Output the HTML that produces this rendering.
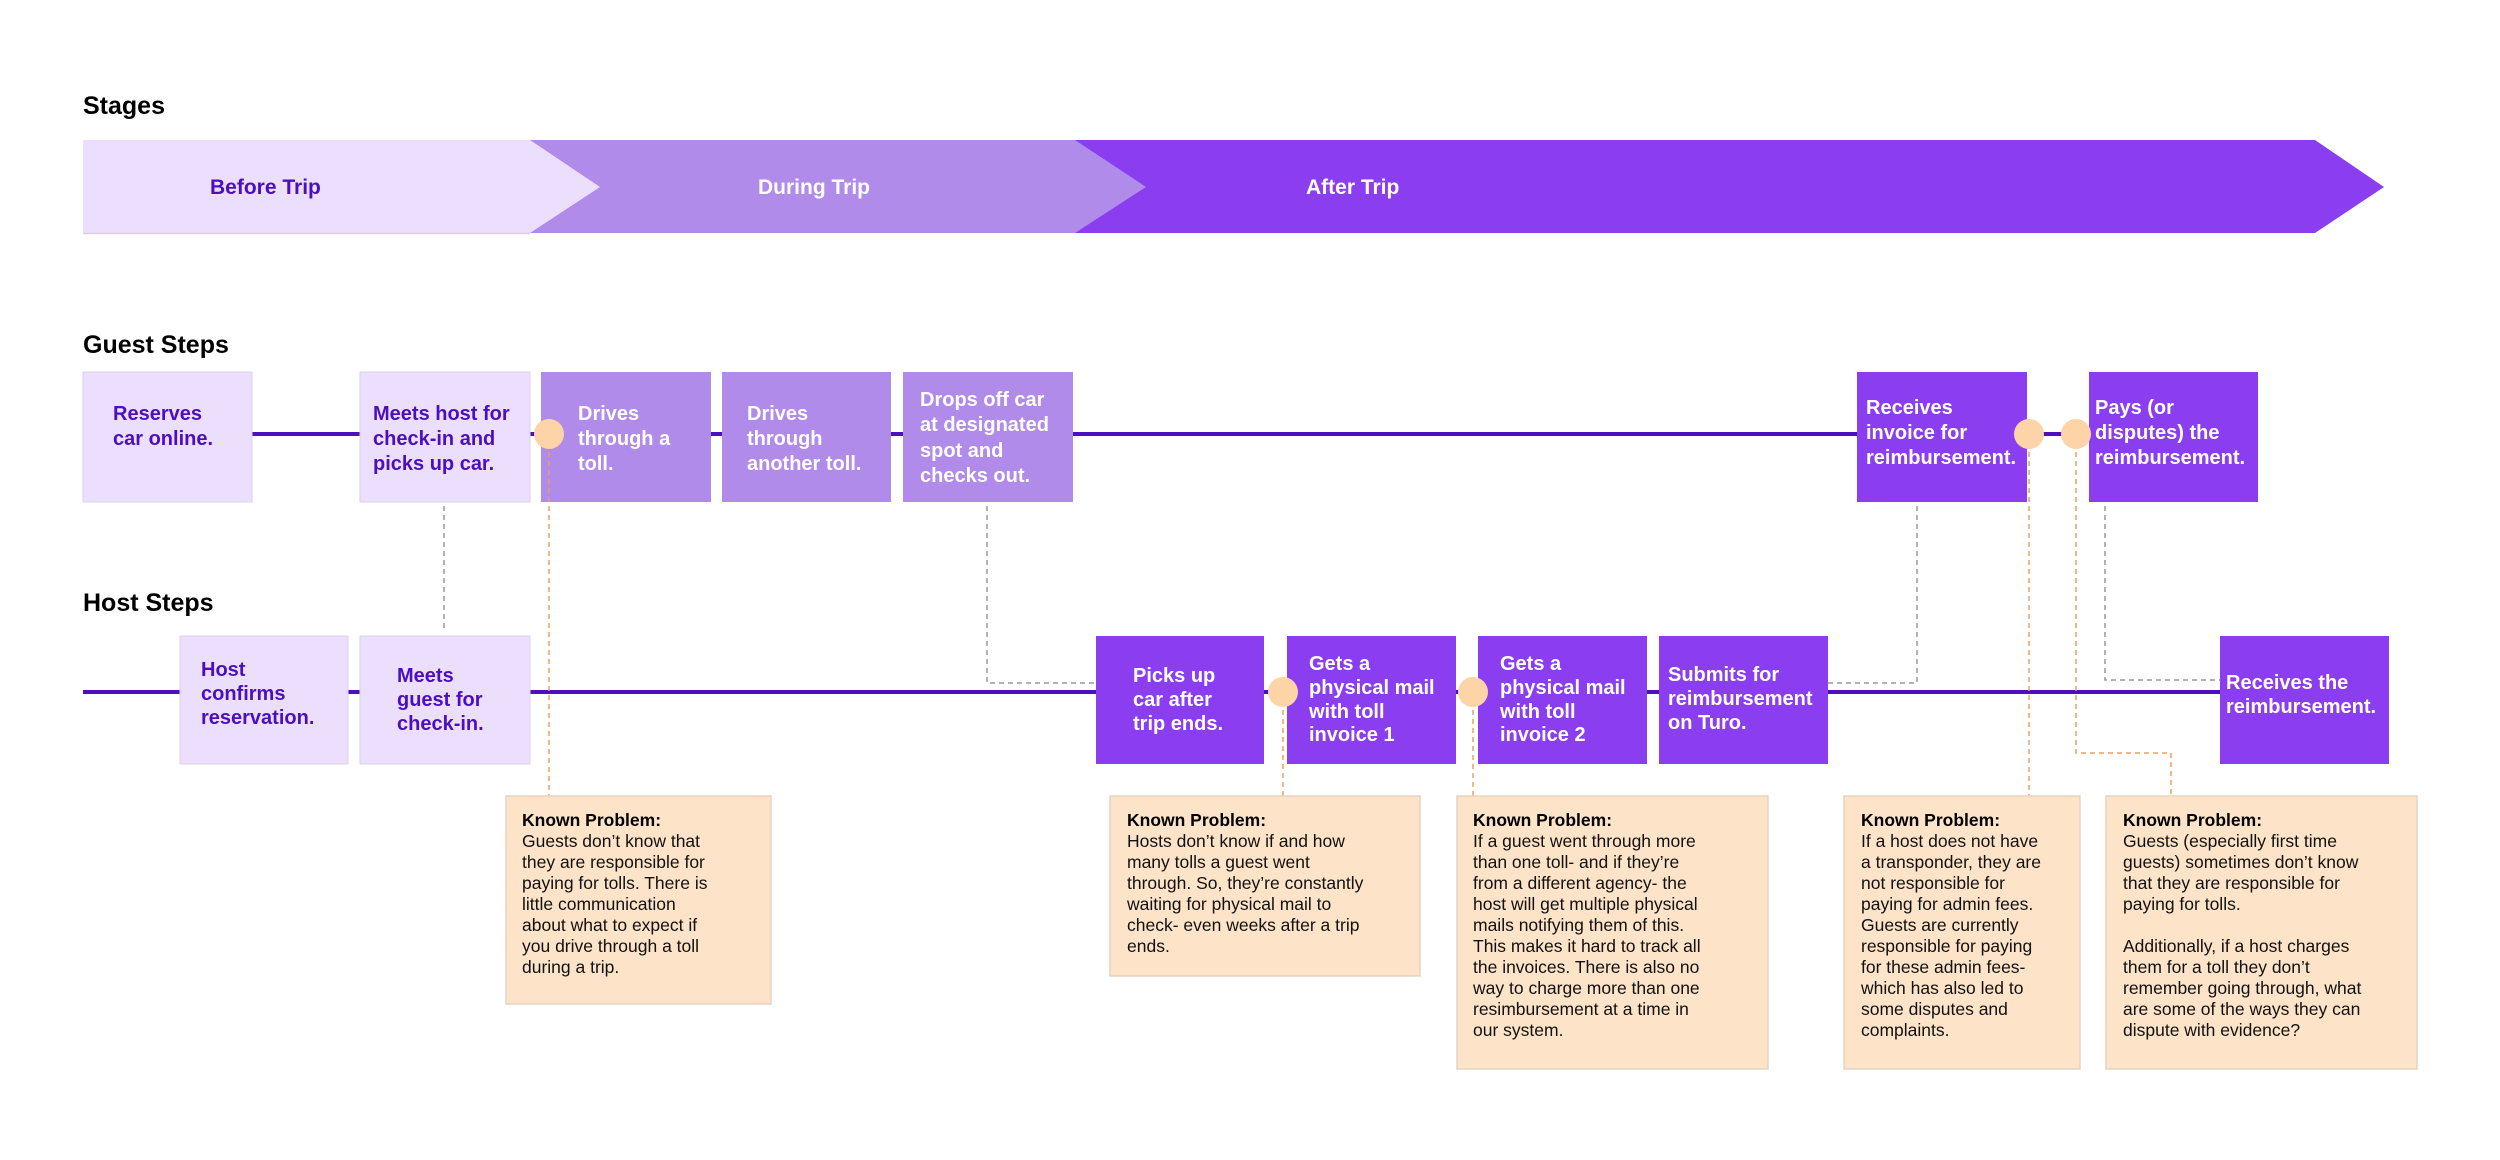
<!DOCTYPE html>
<html><head><meta charset="utf-8"><style>
html,body{margin:0;padding:0;background:#fff;}
svg{display:block;font-family:"Liberation Sans",sans-serif;}
.h{font-size:25px;font-weight:bold;fill:#000;}
.st{font-size:21px;font-weight:bold;}
.s{font-size:20px;font-weight:bold;}
.d{fill:#4b0fc0;}
.w{fill:#fff;}
.p{font-size:17.5px;fill:#111;}
.pb{font-size:17.5px;font-weight:bold;fill:#000;}
</style></head><body>
<svg width="2500" height="1160" viewBox="0 0 2500 1160" xmlns="http://www.w3.org/2000/svg">
<rect width="2500" height="1160" fill="#fff"/>
<!-- Stages -->
<text class="h" x="83" y="114">Stages</text>
<polygon points="1075,140 2315,140 2384,187 2315,233 1075,233" fill="#8a3ef0"/>
<polygon points="530,140 1075,140 1146,187 1075,233 530,233" fill="#b08be9"/>
<polygon points="83,140 530,140 600,187 530,233 83,233" fill="#ecdffd"/>
<line x1="83" y1="233.5" x2="530" y2="233.5" stroke="#d8d0e0" stroke-width="1.5"/>
<text class="st d" x="210" y="194">Before Trip</text>
<text class="st w" x="758" y="194">During Trip</text>
<text class="st w" x="1306" y="194">After Trip</text>

<!-- Guest steps -->
<text class="h" x="83" y="353">Guest Steps</text>
<line x1="252" y1="434" x2="2089" y2="434" stroke="#4b0fc0" stroke-width="4"/>
<g>
<rect x="83" y="372" width="169" height="130" fill="#ecdffd" stroke="#ddd0ee"/>
<rect x="360" y="372" width="170" height="130" fill="#ecdffd" stroke="#ddd0ee"/>
<rect x="541" y="372" width="170" height="130" fill="#b08be9"/>
<rect x="722" y="372" width="169" height="130" fill="#b08be9"/>
<rect x="903" y="372" width="170" height="130" fill="#b08be9"/>
<rect x="1857" y="372" width="170" height="130" fill="#8a3ef0"/>
<rect x="2089" y="372" width="169" height="130" fill="#8a3ef0"/>
</g>
<text class="s d"><tspan x="113" y="420">Reserves</tspan><tspan x="113" y="445">car online.</tspan></text>
<text class="s d"><tspan x="373" y="420">Meets host for</tspan><tspan x="373" y="445">check-in and</tspan><tspan x="373" y="470">picks up car.</tspan></text>
<text class="s w"><tspan x="578" y="420">Drives</tspan><tspan x="578" y="445">through a</tspan><tspan x="578" y="470">toll.</tspan></text>
<text class="s w"><tspan x="747" y="420">Drives</tspan><tspan x="747" y="445">through</tspan><tspan x="747" y="470">another toll.</tspan></text>
<text class="s w"><tspan x="920" y="406">Drops off car</tspan><tspan x="920" y="431">at designated</tspan><tspan x="920" y="457">spot and</tspan><tspan x="920" y="482">checks out.</tspan></text>
<text class="s w"><tspan x="1866" y="414">Receives</tspan><tspan x="1866" y="439">invoice for</tspan><tspan x="1866" y="464">reimbursement.</tspan></text>
<text class="s w"><tspan x="2095" y="414">Pays (or</tspan><tspan x="2095" y="439">disputes) the</tspan><tspan x="2095" y="464">reimbursement.</tspan></text>

<!-- Host steps -->
<text class="h" x="83" y="611">Host Steps</text>
<line x1="83" y1="692" x2="2220" y2="692" stroke="#4b0fc0" stroke-width="4"/>
<rect x="180" y="636" width="168" height="128" fill="#ecdffd" stroke="#ddd0ee"/>
<rect x="360" y="636" width="170" height="128" fill="#ecdffd" stroke="#ddd0ee"/>
<rect x="1096" y="636" width="168" height="128" fill="#8a3ef0"/>
<rect x="1287" y="636" width="169" height="128" fill="#8a3ef0"/>
<rect x="1478" y="636" width="169" height="128" fill="#8a3ef0"/>
<rect x="1659" y="636" width="169" height="128" fill="#8a3ef0"/>
<rect x="2220" y="636" width="169" height="128" fill="#8a3ef0"/>
<text class="s d"><tspan x="201" y="676">Host</tspan><tspan x="201" y="700">confirms</tspan><tspan x="201" y="724">reservation.</tspan></text>
<text class="s d"><tspan x="397" y="682">Meets</tspan><tspan x="397" y="706">guest for</tspan><tspan x="397" y="730">check-in.</tspan></text>
<text class="s w"><tspan x="1133" y="682">Picks up</tspan><tspan x="1133" y="706">car after</tspan><tspan x="1133" y="730">trip ends.</tspan></text>
<text class="s w"><tspan x="1309" y="670">Gets a</tspan><tspan x="1309" y="694">physical mail</tspan><tspan x="1309" y="718">with toll</tspan><tspan x="1309" y="741">invoice 1</tspan></text>
<text class="s w"><tspan x="1500" y="670">Gets a</tspan><tspan x="1500" y="694">physical mail</tspan><tspan x="1500" y="718">with toll</tspan><tspan x="1500" y="741">invoice 2</tspan></text>
<text class="s w"><tspan x="1668" y="681">Submits for</tspan><tspan x="1668" y="705">reimbursement</tspan><tspan x="1668" y="729">on Turo.</tspan></text>
<text class="s w"><tspan x="2226" y="689">Receives the</tspan><tspan x="2226" y="713">reimbursement.</tspan></text>

<!-- connectors -->
<g fill="none" stroke-width="1.5" stroke-dasharray="5,4">
<path d="M444 506 V630" stroke="#999"/>
<path d="M987 506 V683 H1096" stroke="#999"/>
<path d="M1917 506 V683 H1828" stroke="#999"/>
<path d="M2105 506 V680 H2220" stroke="#999"/>
<path d="M549 434 V796" stroke="#e8a060"/>
<path d="M1283 692 V796" stroke="#e8a060"/>
<path d="M1473 692 V796" stroke="#e8a060"/>
<path d="M2029 434 V796" stroke="#e8a060"/>
<path d="M2076 434 V753 H2171 V796" stroke="#e8a060"/>
</g>
<g fill="#fdd3a8">
<circle cx="549" cy="434" r="15"/>
<circle cx="2029" cy="434" r="15"/>
<circle cx="2076" cy="434" r="15"/>
<circle cx="1283" cy="692" r="15"/>
<circle cx="1473" cy="692" r="15"/>
</g>

<!-- problem boxes -->
<g fill="#fde3c8" stroke="#e6d3c2" stroke-width="1.5">
<rect x="506" y="796" width="265" height="208"/>
<rect x="1110" y="796" width="310" height="180"/>
<rect x="1457" y="796" width="311" height="273"/>
<rect x="1844" y="796" width="236" height="273"/>
<rect x="2106" y="796" width="311" height="273"/>
</g>
<text class="pb" x="522" y="826">Known Problem:</text>
<text class="p"><tspan x="522" y="847">Guests don’t know that</tspan><tspan x="522" y="868">they are responsible for</tspan><tspan x="522" y="889">paying for tolls. There is</tspan><tspan x="522" y="910">little communication</tspan><tspan x="522" y="931">about what to expect if</tspan><tspan x="522" y="952">you drive through a toll</tspan><tspan x="522" y="973">during a trip.</tspan></text>
<text class="pb" x="1127" y="826">Known Problem:</text>
<text class="p"><tspan x="1127" y="847">Hosts don’t know if and how</tspan><tspan x="1127" y="868">many tolls a guest went</tspan><tspan x="1127" y="889">through. So, they’re constantly</tspan><tspan x="1127" y="910">waiting for physical mail to</tspan><tspan x="1127" y="931">check- even weeks after a trip</tspan><tspan x="1127" y="952">ends.</tspan></text>
<text class="pb" x="1473" y="826">Known Problem:</text>
<text class="p"><tspan x="1473" y="847">If a guest went through more</tspan><tspan x="1473" y="868">than one toll- and if they’re</tspan><tspan x="1473" y="889">from a different agency- the</tspan><tspan x="1473" y="910">host will get multiple physical</tspan><tspan x="1473" y="931">mails notifying them of this.</tspan><tspan x="1473" y="952">This makes it hard to track all</tspan><tspan x="1473" y="973">the invoices. There is also no</tspan><tspan x="1473" y="994">way to charge more than one</tspan><tspan x="1473" y="1015">resimbursement at a time in</tspan><tspan x="1473" y="1036">our system.</tspan></text>
<text class="pb" x="1861" y="826">Known Problem:</text>
<text class="p"><tspan x="1861" y="847">If a host does not have</tspan><tspan x="1861" y="868">a transponder, they are</tspan><tspan x="1861" y="889">not responsible for</tspan><tspan x="1861" y="910">paying for admin fees.</tspan><tspan x="1861" y="931">Guests are currently</tspan><tspan x="1861" y="952">responsible for paying</tspan><tspan x="1861" y="973">for these admin fees-</tspan><tspan x="1861" y="994">which has also led to</tspan><tspan x="1861" y="1015">some disputes and</tspan><tspan x="1861" y="1036">complaints.</tspan></text>
<text class="pb" x="2123" y="826">Known Problem:</text>
<text class="p"><tspan x="2123" y="847">Guests (especially first time</tspan><tspan x="2123" y="868">guests) sometimes don’t know</tspan><tspan x="2123" y="889">that they are responsible for</tspan><tspan x="2123" y="910">paying for tolls.</tspan><tspan x="2123" y="952">Additionally, if a host charges</tspan><tspan x="2123" y="973">them for a toll they don’t</tspan><tspan x="2123" y="994">remember going through, what</tspan><tspan x="2123" y="1015">are some of the ways they can</tspan><tspan x="2123" y="1036">dispute with evidence?</tspan></text>
</svg>
</body></html>
